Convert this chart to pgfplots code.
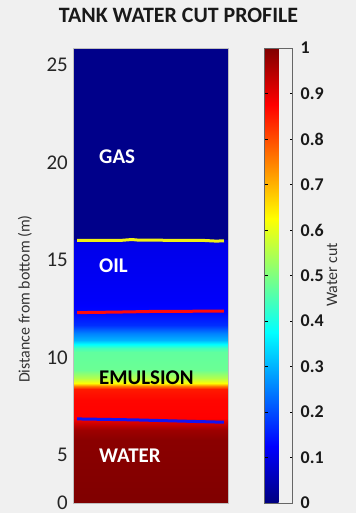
\documentclass[border=0pt]{standalone}
\usepackage{fontspec}
\setmainfont{Carlito}
\usepackage{pgfplots}
\pgfplotsset{compat=1.18}
\definecolor{bg}{RGB}{240,240,240}
\definecolor{ylw}{RGB}{240,240,20}
\definecolor{rdl}{RGB}{255,10,10}
\definecolor{bll}{RGB}{20,20,240}
\begin{document}
\begin{tikzpicture}
\useasboundingbox (0,0) rectangle (356bp,513bp);
\fill[bg] (0,0) rectangle (356bp,513bp);
\begin{axis}[
  at={(73bp,10bp)}, anchor=south west,
  scale only axis, width=155bp, height=455bp,
  xmin=0, xmax=1, ymin=2.538, ymax=25.872,
  enlargelimits=false,
  axis on top,
  xtick=\empty,
  ytick={2.538,5,10,15,20,25},
  yticklabels={0,5,10,15,20,25},
  major tick length=0pt,
  /pgf/number format/assume math mode=true,
  yticklabel style={font=\fontsize{21}{21}\selectfont, text=black!85, inner sep=1bp, xshift=-4bp},
  axis line style={draw=gray!50, line width=0.6bp},
  colormap/jet,
  point meta min=0, point meta max=1,
  colorbar,
  colorbar style={
    at={(parent axis.north east)}, anchor=north west, xshift=28bp,
    width=28bp,
    ymin=0, ymax=1,
    ytick={0,0.1,0.2,0.3,0.4,0.5,0.6,0.7,0.8,0.9,1},
    yticklabels={0,0.1,0.2,0.3,0.4,0.5,0.6,0.7,0.8,0.9,1},
    ytick pos=both, yticklabel pos=right,
    tick align=inside,
    major tick length=3bp,
    ytick style={black, line width=0.7bp},
    /pgf/number format/assume math mode=true,
    yticklabel style={font=\bfseries\fontsize{18}{18}\selectfont, text=black!90, inner sep=1bp, xshift=7bp},
    axis line style={draw=black!60, line width=0.6bp},
  },
]
\addplot[surf, shader=interp, mesh/cols=2, point meta=\thisrow{c}] table {
x y c
0 2.538 1.0
1 2.538 1.0
0 5.769 0.99
1 5.769 0.99
0 6.282 0.97
1 6.282 0.97
0 6.641 0.92
1 6.641 0.92
0 6.897 0.875
1 6.897 0.875
0 7.821 0.87
1 7.821 0.87
0 8.385 0.85
1 8.385 0.85
0 8.538 0.75
1 8.538 0.75
0 8.692 0.62
1 8.692 0.62
0 8.949 0.55
1 8.949 0.55
0 9.359 0.48
1 9.359 0.48
0 10.282 0.47
1 10.282 0.47
0 10.487 0.44
1 10.487 0.44
0 10.692 0.37
1 10.692 0.37
0 10.897 0.30
1 10.897 0.30
0 11.256 0.25
1 11.256 0.25
0 11.667 0.17
1 11.667 0.17
0 12.333 0.13
1 12.333 0.13
0 12.949 0.12
1 12.949 0.12
0 15.769 0.105
1 15.769 0.105
0 16.000 0.09
1 16.000 0.09
0 16.077 0.01
1 16.077 0.01
0 25.872 0.01
1 25.872 0.01
};
\addplot[ylw, line width=3bp, no marks] coordinates {(0.026,16.00) (0.30,16.00) (0.38,16.05) (0.42,16.02) (0.85,16.00) (0.92,15.97) (0.974,15.98)};
\addplot[rdl, line width=3bp, no marks] coordinates {(0.026,12.30) (0.30,12.33) (0.50,12.36) (0.974,12.38)};
\addplot[bll, line width=3bp, no marks] coordinates {(0.026,6.85) (0.40,6.80) (0.974,6.68)};
\node[anchor=base west, inner sep=0, text=white, font=\bfseries\fontsize{21}{21}\selectfont] at (axis cs:0.168,19.97) {GAS};
\node[anchor=base west, inner sep=0, text=white, font=\bfseries\fontsize{21}{21}\selectfont] at (axis cs:0.168,14.38) {OIL};
\node[anchor=base west, inner sep=0, text=black, font=\bfseries\fontsize{21}{21}\selectfont] at (axis cs:0.168,8.64) {EMULSION};
\node[anchor=base west, inner sep=0, text=white, font=\bfseries\fontsize{21}{21}\selectfont] at (axis cs:0.168,4.64) {WATER};
\end{axis}
\node[font=\bfseries\fontsize{22}{22}\selectfont, text=black!90] at (178.5bp,498bp) {TANK WATER CUT PROFILE};
\node[rotate=90, font=\fontsize{16}{16}\selectfont, text=black!80] at (25bp,214bp) {Distance from bottom (m)};
\node[rotate=90, font=\fontsize{16}{16}\selectfont, text=black!80] at (332bp,238bp) {Water cut};
\end{tikzpicture}
\end{document}
